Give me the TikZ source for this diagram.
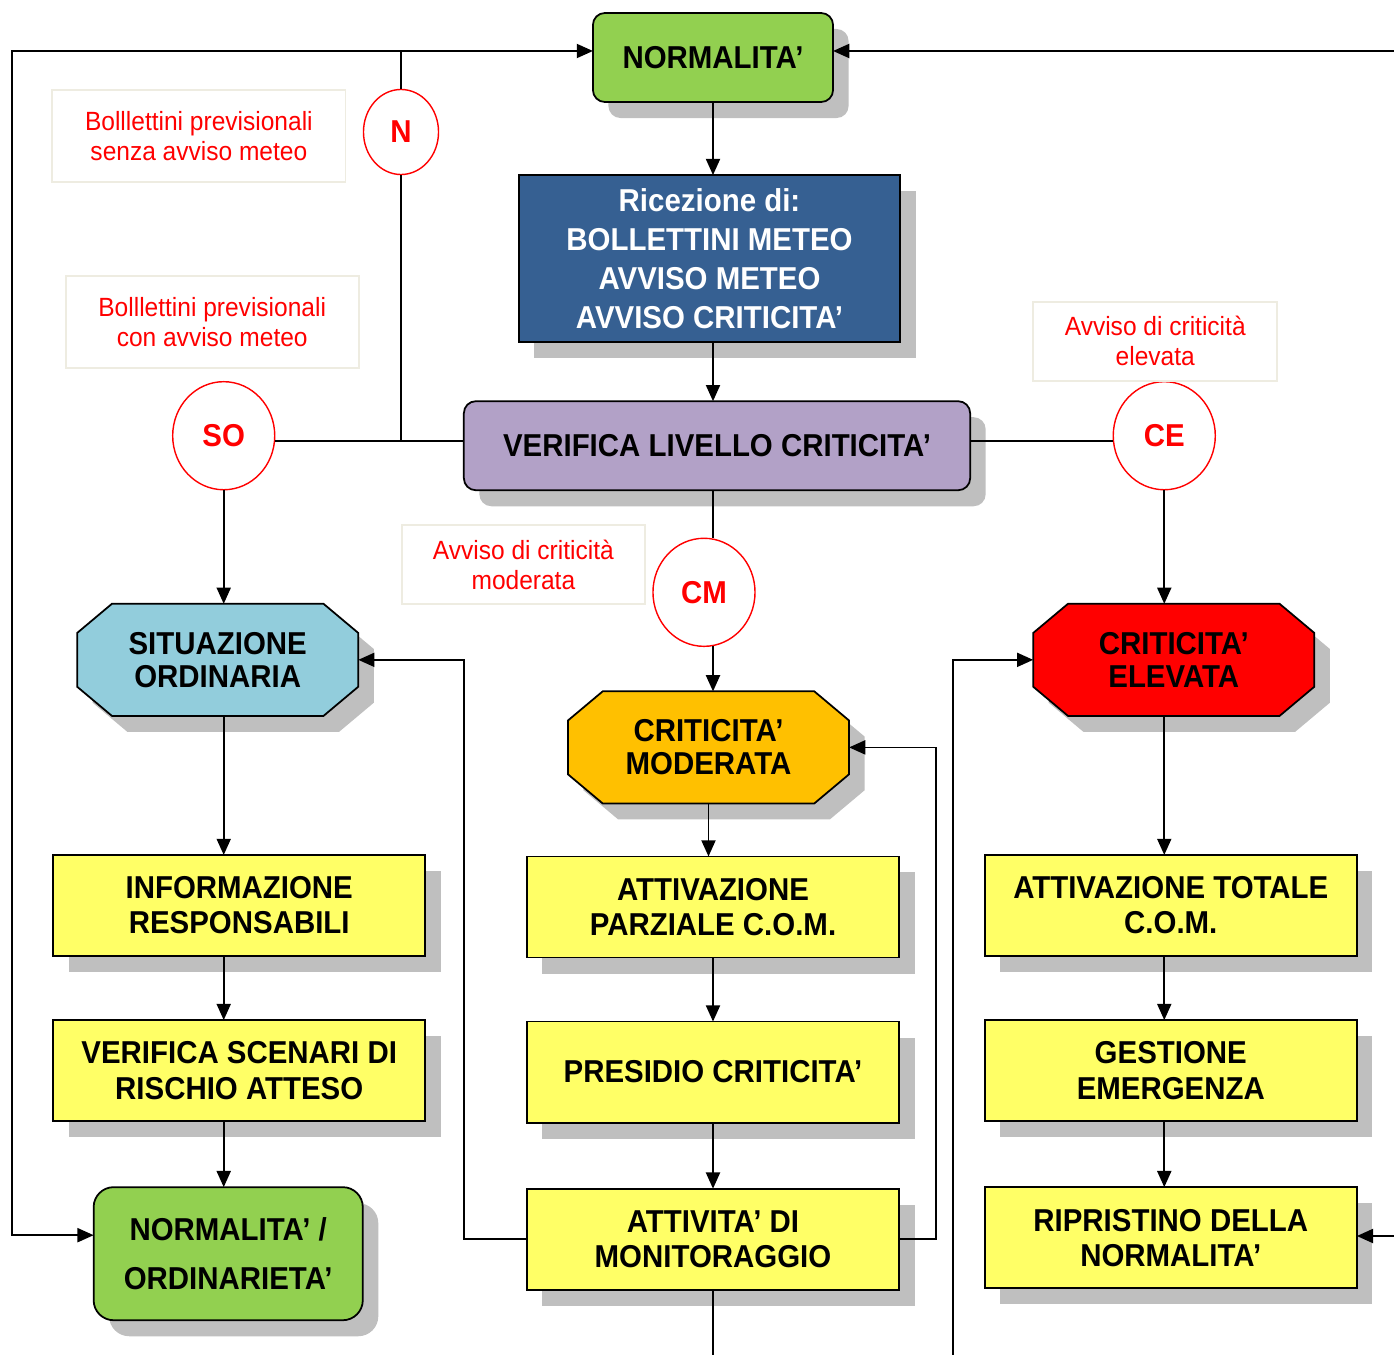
\documentclass[tikz,border=0pt]{standalone}
\usepackage{fontspec}
\setmainfont{Liberation Sans}
\newfontfamily\boxfont{Liberation Sans}[FakeStretch=0.93]
\usepackage{xcolor}
\usepackage{tikz}
\usetikzlibrary{shapes, arrows.meta, shadows, positioning}
\definecolor{normgreen}{HTML}{92D050}
\definecolor{recblue}{HTML}{366092}
\definecolor{checkpurple}{HTML}{B2A1C7}
\definecolor{levelblue}{HTML}{92CDDC}
\definecolor{levelorange}{HTML}{FFC000}
\definecolor{boxyellow}{HTML}{FFFF66}
\definecolor{shadowgray}{HTML}{BFBFBF}
\definecolor{noteborder}{HTML}{EEECE1}
\tikzset{boxshadow/.style={drop shadow={shadow xshift=0.155cm, shadow yshift=-0.16cm, fill=shadowgray, opacity=1}}}
\tikzstyle{block} = [rectangle, draw, fill=boxyellow, inner sep=0pt, align=center,
    minimum width=3.72cm, minimum height=1.01cm, boxshadow,
    font=\boxfont\bfseries\fontsize{9}{10}\selectfont]
\tikzstyle{startbox} = [rectangle, rounded corners=0.12cm, draw, fill=normgreen, inner sep=0pt,
    minimum width=2.40cm, minimum height=0.89cm, boxshadow, font=\boxfont\bfseries\fontsize{9}{10}\selectfont]
\tikzstyle{endbox} = [rectangle, rounded corners=0.2cm, draw, fill=normgreen, inner sep=0pt, align=center,
    minimum width=2.69cm, minimum height=1.33cm, boxshadow, font=\boxfont\bfseries\fontsize{9}{14}\selectfont]
\tikzstyle{infobox} = [rectangle, draw, fill=recblue, text=white, inner sep=0pt, align=center,
    minimum width=3.81cm, minimum height=1.67cm, boxshadow, font=\boxfont\bfseries\fontsize{9}{11.1}\selectfont]
\tikzstyle{checkbox} = [rectangle, rounded corners=0.12cm, draw, fill=checkpurple, inner sep=0pt,
    minimum width=5.06cm, minimum height=0.89cm, boxshadow, font=\boxfont\bfseries\fontsize{9}{10}\selectfont]
\tikzstyle{level} = [chamfered rectangle, chamfered rectangle angle=50, chamfered rectangle xsep=0.2cm,
    draw, inner sep=0pt, align=center,
    minimum width=2.81cm, minimum height=1.12cm, boxshadow, font=\boxfont\bfseries\fontsize{9}{9.4}\selectfont]
\tikzstyle{alert} = [ellipse, draw=red, fill=white, text=red, inner sep=0pt, line width=0.4pt,
    minimum width=1.02cm, minimum height=1.08cm, font=\boxfont\bfseries\fontsize{9}{10}\selectfont]
\tikzstyle{note} = [rectangle, draw=noteborder, fill=white, text=red, inner sep=0pt, align=center,
    minimum width=2.93cm, minimum height=0.92cm, font=\boxfont\fontsize{7.5}{8.5}\selectfont]
\tikzstyle{line} = [draw, -{Triangle[length=4.6pt,width=4pt]}]
\tikzstyle{link} = [draw]

\begin{document}
\begin{tikzpicture}[x=0.01cm, y=-0.01cm, line width=0.5pt, every node/.style={outer sep=0pt}]
      \useasboundingbox (0,0) rectangle (1394,1355);
      % Middle column
      \node [startbox] (norm) at (713,57.5) {NORMALITA’};
      \node [infobox, below=0.73cm of norm, xshift=-0.035cm] (ricez) {Ricezione di:\\BOLLETTINI METEO\\AVVISO METEO\\AVVISO CRITICITA’};
      \node [checkbox, below=0.59cm of ricez, xshift=0.075cm] (verif) {VERIFICA LIVELLO CRITICITA’};
      \node [alert, below=0.48cm of verif, xshift=-0.13cm] (circcm) {CM};
      \node [note, left=0.08cm of circcm, yshift=0.275cm, minimum width=2.43cm, minimum height=0.79cm] (notemod) {Avviso di criticità\\moderata};
      \node [level, fill=levelorange, below=0.45cm of circcm, xshift=0.045cm] (moder) {CRITICITA’\\MODERATA};
      \node [block, below=0.53cm of moder, xshift=0.045cm] (attparz) {ATTIVAZIONE\\PARZIALE C.O.M.};
      \node [block, below=0.64cm of attparz] (presid) {PRESIDIO CRITICITA’};
      \node [block, below=0.66cm of presid] (monit) {ATTIVITA’ DI\\MONITORAGGIO};
      % Left column
      \node [alert, minimum width=0.75cm, minimum height=0.85cm] (circn) at (401,132) {N};
      \node [note, left=0.18cm of circn, yshift=-0.04cm] (notesenza) {Bolllettini previsionali\\senza avviso meteo};
      \node [alert, left=1.89cm of verif, yshift=0.1cm] (circso) {SO};
      \node [note, above=0.14cm of circso, xshift=-0.115cm] (notecon) {Bolllettini previsionali\\con avviso meteo};
      \node [level, fill=levelblue, below=1.14cm of circso, xshift=-0.06cm] (sitord) {SITUAZIONE\\ORDINARIA};
      \node [block, below=1.39cm of sitord, xshift=0.215cm] (inform) {INFORMAZIONE\\RESPONSABILI};
      \node [block, below=0.64cm of inform] (scenari) {VERIFICA SCENARI DI\\RISCHIO ATTESO};
      \node [endbox, below=0.66cm of scenari, xshift=-0.11cm] (ordin) {NORMALITA’ /\\ORDINARIETA’};
      % Right column
      \node [alert, right=1.43cm of verif, yshift=0.1cm] (circce) {CE};
      \node [note, above=0.01cm of circce, xshift=-0.09cm, minimum width=2.44cm, minimum height=0.79cm] (noteelev) {Avviso di criticità\\elevata};
      \node [level, fill=red, below=1.14cm of circce, xshift=0.095cm] (elev) {CRITICITA’\\ELEVATA};
      \node [block, below=1.39cm of elev, xshift=-0.03cm] (atttot) {ATTIVAZIONE TOTALE\\C.O.M.};
      \node [block, below=0.64cm of atttot] (gest) {GESTIONE\\EMERGENZA};
      \node [block, below=0.66cm of gest] (ripr) {RIPRISTINO DELLA\\NORMALITA’};
      % Loose ends
      \coordinate (leftcorner) at (12,51);
      \coordinate (toright) at (1394,51);
      \coordinate (ripright) at (1394,1236);
      \coordinate (elevfoot) at (953,1355);
      \coordinate (monitfoot) at (709,1355);
      % Draw edges
      \path [line] (norm.south) -- (norm.south |- ricez.north);
      \path [line] (norm.south |- ricez.south) -- (norm.south |- verif.north);
      \path [link] (norm.south |- verif.south) -- (norm.south |- circcm.north);
      \path [line] (norm.south |- circcm.south) -- (norm.south |- moder.north);
      \path [line] (moder.south) -- (moder.south |- attparz.north);
      \path [line] (attparz) -- (presid);
      \path [line] (presid) -- (monit);
      \path [link] (monit.south) -- (monit.south |- monitfoot);
      \path [link] ([yshift=0.045cm]verif.west) -- ([yshift=0.045cm]verif.west -| circso.east);
      \path [link] ([yshift=0.045cm]verif.west -| circn) -- (circn.south);
      \path [line] (circn.north) |- ([yshift=0.065cm]norm.west);
      \path [line] (leftcorner -| circn) -- (leftcorner) |- ([yshift=0.185cm]ordin.west);
      \path [line] (circso) -- (circso |- sitord.north);
      \path [line] (circso |- sitord.south) -- (circso |- inform.north);
      \path [line] (circso |- inform.south) -- (circso |- scenari.north);
      \path [line] (circso |- scenari.south) -- (circso |- ordin.north);
      \path [link] ([yshift=0.045cm]verif.east) -- ([yshift=0.045cm]verif.east -| circce.west);
      \path [line] (circce) -- (circce |- elev.north);
      \path [line] (circce |- elev.south) -- (circce |- atttot.north);
      \path [line] (circce |- atttot.south) -- (circce |- gest.north);
      \path [line] (circce |- gest.south) -- (circce |- ripr.north);
      \path [line] (toright) -- (toright -| norm.east);
      \path [line] (ripright) -- (ripright -| ripr.east);
      \path [line] (elevfoot) |- (elev.west);
      \path [line] (monit.west) -- ++(-63,0) |- (sitord.east);
      \path [line] (monit.east) -- ++(37,0) |- (moder.east);
\end{tikzpicture}
\end{document}
